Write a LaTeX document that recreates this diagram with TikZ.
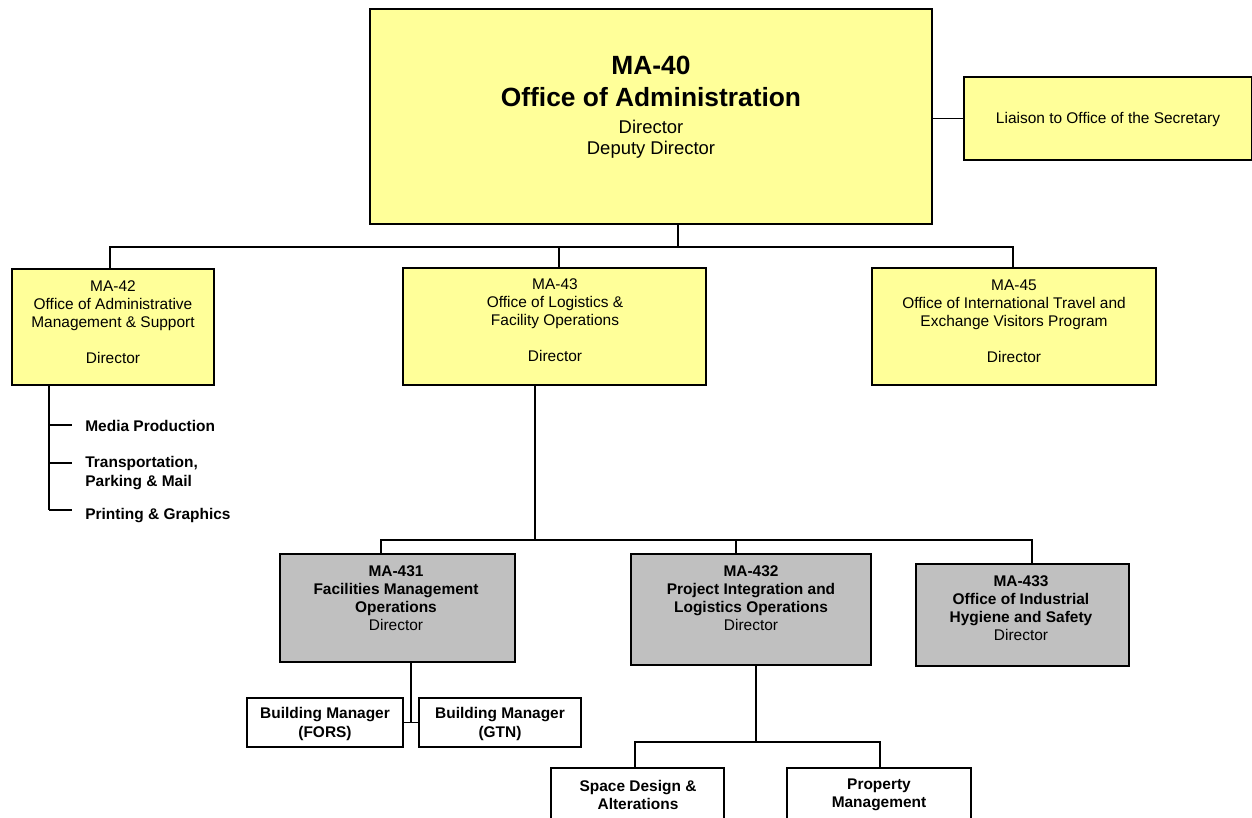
\documentclass[tikz,border=0pt]{standalone}
\usepackage{fontspec}
\setmainfont{Liberation Sans}
\usetikzlibrary{fit}
\definecolor{boxyellow}{HTML}{FFFF99}
\definecolor{boxgray}{HTML}{C0C0C0}
\begin{document}
\begin{tikzpicture}[x=0.02cm,y=-0.02cm,
  box/.style={draw=black, line width=0.9pt, inner sep=0pt},
  ybox/.style={box, fill=boxyellow},
  gbox/.style={box, fill=boxgray},
  wbox/.style={box, fill=white},
  txt/.style={align=center, inner sep=0pt, font=\fontsize{8.8}{10.3}\selectfont},
  btxt/.style={txt, font=\fontsize{8.8}{10.3}\selectfont\bfseries},
  lbl/.style={align=left, inner sep=0pt, anchor=west, font=\fontsize{8.8}{10.3}\selectfont\bfseries},
  link/.style={line width=0.75pt}]

\clip (0,0) rectangle (1252,818);
\fill[white] (0,0) rectangle (1252,818);

% boxes
\node[ybox, fit={(370,9) (932,224)}] (ma40) {};
\node[ybox, fit={(964,77) (1251.5,160)}] (lia) {};
\node[ybox, fit={(12,269) (214,385)}] (ma42) {};
\node[ybox, fit={(403,268) (706,385)}] (ma43) {};
\node[ybox, fit={(872,268) (1156,385)}] (ma45) {};
\node[gbox, fit={(280,554) (515,662)}] (ma431) {};
\node[gbox, fit={(631,554) (871,665)}] (ma432) {};
\node[gbox, fit={(916,564) (1129,666)}] (ma433) {};
\node[wbox, fit={(247,698) (403,747)}] (fors) {};
\node[wbox, fit={(419,698) (581,747)}] (gtn) {};
\node[wbox, fit={(551,768) (724,830)}] (space) {};
\node[wbox, fit={(787,768) (971,830)}] (prop) {};

% box texts
\node[txt, font=\fontsize{10.5}{12}\selectfont] (t40) at (651,107)
  {{\fontsize{15}{18}\selectfont\bfseries MA-40}\\[6pt]{\fontsize{15}{18}\selectfont\bfseries Office of Administration}\\[3.4pt]Director\\Deputy Director};
\node[txt] (tlia) at (1108,120) {Liaison to Office of the Secretary};
\node[txt] (t42) at (113,322) {MA-42\\Office of Administrative\\Management \& Support\\[10.3pt]Director};
\node[txt] (t43) at (555,320) {MA-43\\Office of Logistics \&\\Facility Operations\\[10.3pt]Director};
\node[txt] (t45) at (1014,321) {MA-45\\Office of International Travel and\\Exchange Visitors Program\\[10.3pt]Director};
\node[txt] (t431) at (396,598) {\textbf{MA-431}\\\textbf{Facilities Management}\\\textbf{Operations}\\Director};
\node[txt] (t432) at (751,598.5) {\textbf{MA-432}\\\textbf{Project Integration and}\\\textbf{Logistics Operations}\\Director};
\node[txt] (t433) at (1021,608.5) {\textbf{MA-433}\\\textbf{Office of Industrial}\\\textbf{Hygiene and Safety}\\Director};
\node[btxt] (tfors) at (325,724) {Building Manager\\(FORS)};
\node[btxt] (tgtn) at (500,724) {Building Manager\\(GTN)};
\node[btxt] (tspace) at (638,795) {Space Design \&\\Alterations};
\node[btxt] (tprop) at (879,795) {Property\\Management};

% units under MA-42
\node[lbl] (media) at (85,426) {Media Production};
\node[lbl] (trans) at (85,473) {Transportation,\\Parking \& Mail};
\node[lbl] (print) at (85,516) {Printing \& Graphics};

% connector points
\coordinate (d40) at (678,224);
\coordinate (bus1) at (0,247);
\coordinate (u42) at (110,269);
\coordinate (u43) at (559,268);
\coordinate (u45) at (1013,268);
\coordinate (s42) at (49,385);
\coordinate (k1) at (49,425);
\coordinate (k2) at (49,463);
\coordinate (k3) at (49,510);
\coordinate (d43) at (535,385);
\coordinate (bus2) at (0,540);
\coordinate (u431) at (381,554);
\coordinate (u432) at (736,554);
\coordinate (u433) at (1032,564);
\coordinate (d431) at (411,662);
\coordinate (d432) at (756,665);
\coordinate (bus3) at (0,742);
\coordinate (us) at (635,768);
\coordinate (up) at (880,768);

% connectors
\draw[link] (lia.west -| ma40.east) -- (lia.west);
\draw[link] (d40) -- (d40 |- bus1);
\draw[link] (u42) |- (bus1 -| u45) -- (u45);
\draw[link] (u43) -- (u43 |- bus1);

\draw[link] (s42) -- (k3);
\draw[link] (k1) -- ++(23,0);
\draw[link] (k2) -- ++(23,0);
\draw[link] (k3) -- ++(23,0);

\draw[link] (d43) -- (d43 |- bus2);
\draw[link] (u431) |- (bus2 -| u433) -- (u433);
\draw[link] (u432) -- (u432 |- bus2);

\draw[link] (d431) -- (d431 |- fors.east);
\draw[link] (fors.east) -- (gtn.west);

\draw[link] (d432) -- (d432 |- bus3);
\draw[link] (us) |- (bus3 -| up) -- (up);
\end{tikzpicture}
\end{document}
